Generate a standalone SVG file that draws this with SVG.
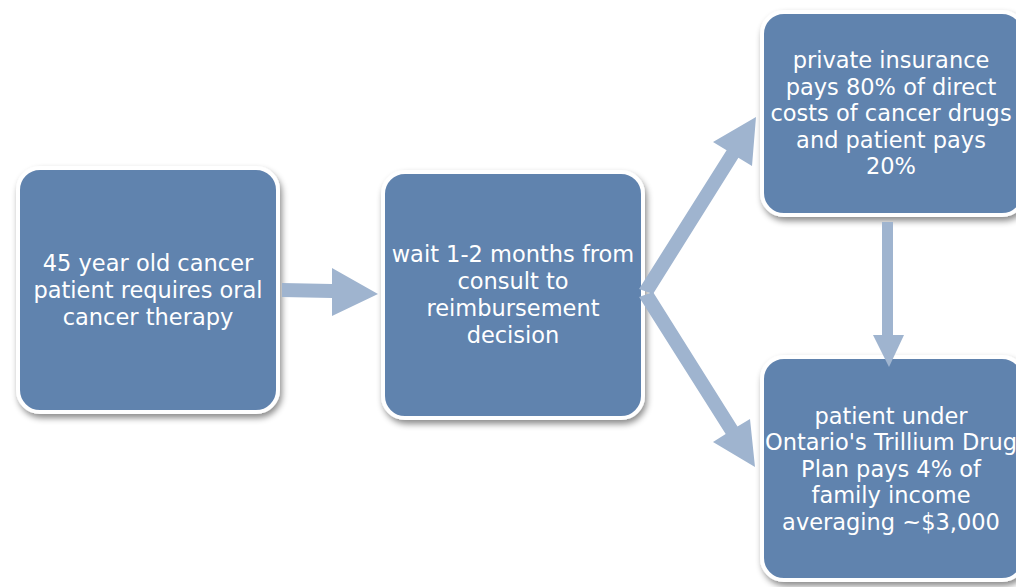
<svg xmlns="http://www.w3.org/2000/svg" width="1016" height="587" viewBox="0 0 1016 587">
<defs>
<filter id="sh" x="-10%" y="-10%" width="125%" height="125%">
<feDropShadow dx="2" dy="4" stdDeviation="3" flood-color="#000" flood-opacity="0.45"/>
</filter>
<style>
.box{fill:#6183AE;stroke:#fff;stroke-width:4;filter:url(#sh)}
.conn{fill:#9FB4CF}
.t{font-family:"DejaVu Sans","Liberation Sans",sans-serif;font-size:22.5px;fill:#fff;text-anchor:middle}
</style>
</defs>
<rect width="1016" height="587" fill="#fff"/>
<g id="n1">
<rect class="box" x="18" y="168" width="260" height="244" rx="22"/>
<text class="t"><tspan x="148" y="271">45 year old cancer</tspan><tspan x="148" y="298">patient requires oral</tspan><tspan x="148" y="325">cancer therapy</tspan></text>
</g>
<g id="n2">
<rect class="box" x="383" y="172" width="260" height="246" rx="22"/>
<text class="t"><tspan x="513" y="262">wait 1-2 months from</tspan><tspan x="513" y="289">consult to</tspan><tspan x="513" y="316">reimbursement</tspan><tspan x="513" y="343">decision</tspan></text>
</g>
<g id="n3">
<rect class="box" x="762" y="12" width="262" height="203" rx="22"/>
<text class="t"><tspan x="891" y="68">private insurance</tspan><tspan x="891" y="95">pays 80% of direct</tspan><tspan x="891" y="121">costs of cancer drugs</tspan><tspan x="891" y="148">and patient pays</tspan><tspan x="891" y="174">20%</tspan></text>
</g>
<g id="n4">
<rect class="box" x="762" y="357" width="262" height="223" rx="22"/>
<text class="t"><tspan x="891" y="424">patient under</tspan><tspan x="891" y="450">Ontario's Trillium Drug</tspan><tspan x="891" y="477">Plan pays 4% of</tspan><tspan x="891" y="503">family income</tspan><tspan x="891" y="530">averaging ~$3,000</tspan></text>
</g>
<g id="connectors">
<polygon class="conn" points="282,283 332,284 332,268 378,294 332,316 332,298 282,297"/>
<polygon class="conn" points="639,289 726.6,150.3 713,142 756,117 752,166 738.4,157.7 653,294"/>
<polygon class="conn" points="639,297 653,292 737.5,426.6 750,419 755,467 713,442 725.7,434"/>
<polygon class="conn" points="882,222 893,222 893,335 904,335 889,367 873,335 882,335"/>
</g>
</svg>
